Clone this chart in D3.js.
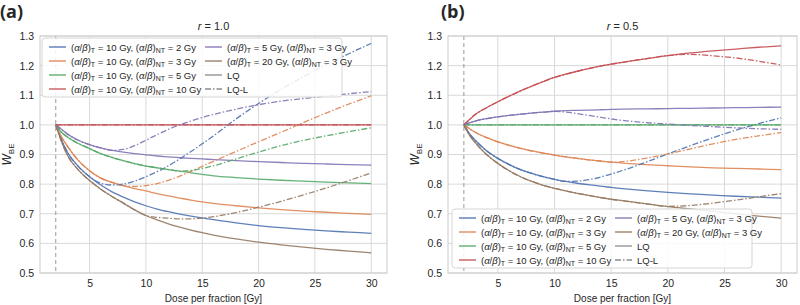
<!DOCTYPE html>
<html>
<head>
<meta charset="utf-8">
<script src="https://cdn.jsdelivr.net/npm/d3@7"></script>
<style>
  body { margin: 0; background: #fff; }
  svg text { font-family: "Liberation Sans", Arial, sans-serif; fill: #262626; }
</style>
</head>
<body>
<svg id="chart" width="800" height="305"></svg>
<script>
// dose per fraction [Gy]
const dose = [2, 2.5, 3, 4, 5, 6, 7, 8, 9, 10, 11, 12, 13, 14, 15, 16, 18, 20, 22, 24, 26, 28, 30];

// (a/b)_T, (a/b)_NT for each series
const abPairs = [[10, 2], [10, 3], [10, 5], [10, 10], [5, 3], [20, 3]];
const colors = ["#4c72b0", "#dd8452", "#55a868", "#c44e52", "#8172b3", "#937860"];

const xTicks = [5, 10, 15, 20, 25, 30];
const yTicks = [0.5, 0.6, 0.7, 0.8, 0.9, 1.0, 1.1, 1.2, 1.3];
const yTickLabels = ["0.5", "0.6", "0.7", "0.8", "0.9", "1.0", "1.1", "1.2", "1.3"];

// panel (a), r = 1.0
const lqA = [
  [1.0, 0.95, 0.91, 0.86, 0.825, 0.797, 0.774, 0.756, 0.74, 0.727, 0.716, 0.707, 0.699, 0.692, 0.686, 0.68, 0.669, 0.66, 0.653, 0.647, 0.642, 0.638, 0.634],
  [1.0, 0.96, 0.93, 0.88, 0.845, 0.82, 0.806, 0.795, 0.785, 0.777, 0.768, 0.76, 0.753, 0.746, 0.74, 0.735, 0.727, 0.72, 0.714, 0.709, 0.705, 0.701, 0.698],
  [1.0, 0.975, 0.96, 0.937, 0.92, 0.903, 0.89, 0.879, 0.869, 0.861, 0.855, 0.849, 0.844, 0.838, 0.833, 0.828, 0.822, 0.817, 0.813, 0.81, 0.807, 0.804, 0.802],
  [1.0, 1.0, 1.0, 1.0, 1.0, 1.0, 1.0, 1.0, 1.0, 1.0, 1.0, 1.0, 1.0, 1.0, 1.0, 1.0, 1.0, 1.0, 1.0, 1.0, 1.0, 1.0, 1.0],
  [1.0, 0.985, 0.97, 0.948, 0.933, 0.922, 0.914, 0.908, 0.903, 0.899, 0.895, 0.892, 0.889, 0.887, 0.885, 0.883, 0.879, 0.876, 0.873, 0.87, 0.868, 0.866, 0.864],
  [1.0, 0.945, 0.9, 0.848, 0.812, 0.783, 0.758, 0.736, 0.713, 0.694, 0.679, 0.666, 0.655, 0.645, 0.636, 0.628, 0.615, 0.604, 0.595, 0.587, 0.58, 0.574, 0.568]
];
const lqlA = [
  [1.0, 0.95, 0.91, 0.86, 0.825, 0.803, 0.797, 0.8, 0.81, 0.825, 0.842, 0.862, 0.885, 0.91, 0.936, 0.963, 1.02, 1.072, 1.12, 1.163, 1.203, 1.24, 1.275],
  [1.0, 0.96, 0.93, 0.88, 0.845, 0.82, 0.806, 0.795, 0.792, 0.795, 0.802, 0.813, 0.827, 0.843, 0.86, 0.877, 0.91, 0.943, 0.975, 1.008, 1.04, 1.07, 1.098],
  [1.0, 0.975, 0.96, 0.937, 0.92, 0.903, 0.89, 0.879, 0.869, 0.861, 0.855, 0.849, 0.844, 0.846, 0.853, 0.862, 0.885, 0.908, 0.93, 0.948, 0.963, 0.977, 0.99],
  [1.0, 1.0, 1.0, 1.0, 1.0, 1.0, 1.0, 1.0, 1.0, 1.0, 1.0, 1.0, 1.0, 1.0, 1.0, 1.0, 1.0, 1.0, 1.0, 1.0, 1.0, 1.0, 1.0],
  [1.0, 0.985, 0.97, 0.948, 0.933, 0.922, 0.914, 0.917, 0.93, 0.948, 0.967, 0.985, 1.0, 1.013, 1.025, 1.035, 1.053, 1.068, 1.08, 1.089, 1.097, 1.105, 1.112],
  [1.0, 0.945, 0.9, 0.848, 0.812, 0.783, 0.758, 0.736, 0.713, 0.694, 0.688, 0.685, 0.683, 0.683, 0.685, 0.69, 0.704, 0.722, 0.742, 0.764, 0.787, 0.812, 0.838]
];

// panel (b), r = 0.5
const lqB = [
  [1.0, 0.97, 0.948, 0.913, 0.887, 0.866, 0.849, 0.836, 0.825, 0.816, 0.809, 0.803, 0.798, 0.793, 0.789, 0.785, 0.778, 0.772, 0.767, 0.763, 0.759, 0.756, 0.753],
  [1.0, 0.987, 0.975, 0.957, 0.943, 0.931, 0.921, 0.912, 0.905, 0.898, 0.892, 0.887, 0.882, 0.878, 0.874, 0.871, 0.866, 0.862, 0.858, 0.855, 0.853, 0.851, 0.849],
  [1.0, 1.0, 1.0, 1.0, 1.0, 1.0, 1.0, 1.0, 1.0, 1.0, 1.0, 1.0, 1.0, 1.0, 1.0, 1.0, 1.0, 1.0, 1.0, 1.0, 1.0, 1.0, 1.0],
  [1.0, 1.018, 1.035, 1.058, 1.078, 1.097, 1.115, 1.131, 1.146, 1.16, 1.171, 1.181, 1.19, 1.198, 1.205, 1.211, 1.223, 1.234, 1.243, 1.25, 1.256, 1.262, 1.267],
  [1.0, 1.007, 1.013, 1.021, 1.027, 1.032, 1.036, 1.04, 1.043, 1.046, 1.048, 1.049, 1.05, 1.051, 1.052, 1.053, 1.054, 1.055, 1.056, 1.057, 1.058, 1.059, 1.06],
  [1.0, 0.965, 0.94, 0.9, 0.87, 0.845, 0.825, 0.809, 0.796, 0.786, 0.777, 0.769, 0.762, 0.755, 0.749, 0.744, 0.734, 0.724, 0.716, 0.708, 0.7, 0.692, 0.685]
];
const lqlB = [
  [1.0, 0.97, 0.948, 0.913, 0.887, 0.866, 0.849, 0.836, 0.825, 0.816, 0.809, 0.81, 0.815, 0.823, 0.834, 0.846, 0.873, 0.902, 0.93, 0.957, 0.982, 1.004, 1.024],
  [1.0, 0.987, 0.975, 0.957, 0.943, 0.931, 0.921, 0.912, 0.905, 0.898, 0.892, 0.887, 0.882, 0.878, 0.874, 0.876, 0.887, 0.902, 0.919, 0.936, 0.951, 0.963, 0.974],
  [1.0, 1.0, 1.0, 1.0, 1.0, 1.0, 1.0, 1.0, 1.0, 1.0, 1.0, 1.0, 1.0, 1.0, 1.0, 1.0, 1.0, 1.0, 1.0, 1.0, 1.0, 1.0, 1.0],
  [1.0, 1.018, 1.035, 1.058, 1.078, 1.097, 1.115, 1.131, 1.146, 1.16, 1.171, 1.181, 1.19, 1.198, 1.205, 1.211, 1.223, 1.234, 1.238, 1.233, 1.226, 1.215, 1.202],
  [1.0, 1.007, 1.013, 1.021, 1.027, 1.032, 1.036, 1.04, 1.043, 1.046, 1.043, 1.038, 1.032, 1.026, 1.02, 1.015, 1.008, 1.003, 0.998, 0.994, 0.99, 0.987, 0.985],
  [1.0, 0.965, 0.94, 0.9, 0.87, 0.845, 0.825, 0.809, 0.796, 0.786, 0.777, 0.769, 0.762, 0.755, 0.749, 0.744, 0.734, 0.725, 0.728, 0.736, 0.746, 0.757, 0.768]
];

const svg = d3.select("#chart");
const plotTop = 36, plotBottom = 273;
const dashDot = "6,2,1.5,2";

function mathLabel(sel, t, nt) {
  const parts = [["(", ""], ["α", "i"], ["/", ""], ["β", "i"], [")", ""], ["T", "s"],
    [` = ${t} Gy, (`, ""], ["α", "i"], ["/", ""], ["β", "i"], [")", ""], ["NT", "s"], [` = ${nt} Gy`, ""]];
  let sub = false;
  parts.forEach(([txt, k]) => {
    const ts = sel.append("tspan").text(txt);
    if (k === "i") ts.style("font-style", "italic");
    if (k === "s") { ts.attr("dy", 2.5).attr("font-size", "7px"); sub = true; }
    else if (sub) { ts.attr("dy", -2.5); sub = false; }
  });
}

function drawPanel(cfg) {
  const x = d3.scaleLinear().domain([0.6, 31.4]).range([cfg.left, cfg.right]);
  const y = d3.scaleLinear().domain([0.5, 1.3]).range([plotBottom, plotTop]);
  const g = svg.append("g");

  // grid
  g.selectAll(".gx").data(xTicks).enter().append("line")
    .attr("x1", d => x(d)).attr("x2", d => x(d)).attr("y1", plotTop).attr("y2", plotBottom)
    .attr("stroke", "#d9d9d9").attr("stroke-width", 1);
  g.selectAll(".gy").data(yTicks).enter().append("line")
    .attr("x1", cfg.left).attr("x2", cfg.right).attr("y1", d => y(d)).attr("y2", d => y(d))
    .attr("stroke", "#d9d9d9").attr("stroke-width", 1);

  // axes (labels only)
  const xa = g.append("g").attr("transform", `translate(0,${plotBottom})`)
    .call(d3.axisBottom(x).tickValues(xTicks).tickSize(0).tickPadding(7).tickFormat(d => String(d)));
  const ya = g.append("g").attr("transform", `translate(${cfg.left},0)`)
    .call(d3.axisLeft(y).tickValues(yTicks).tickSize(0).tickPadding(6).tickFormat((d, i) => yTickLabels[i]));
  [xa, ya].forEach(a => {
    a.select(".domain").remove();
    a.selectAll("text").attr("font-size", "10.5px").style("font-family", "'Liberation Sans', Arial, sans-serif").attr("fill", "#333");
  });

  // threshold line at 2 Gy
  g.append("line").attr("x1", x(2)).attr("x2", x(2)).attr("y1", plotTop).attr("y2", plotBottom)
    .attr("stroke", "#999").attr("stroke-width", 1).attr("stroke-dasharray", "4,3");

  const clipId = "clip" + cfg.name;
  svg.append("clipPath").attr("id", clipId).append("rect")
    .attr("x", cfg.left).attr("y", plotTop).attr("width", cfg.right - cfg.left).attr("height", plotBottom - plotTop);

  const line = d3.line().x((d, i) => x(dose[i])).y(d => y(d)).curve(d3.curveMonotoneX);
  const lines = g.append("g").attr("clip-path", `url(#${clipId})`);
  cfg.lq.forEach((vals, k) => {
    lines.append("path").attr("d", line(vals)).attr("fill", "none")
      .attr("stroke", colors[k]).attr("stroke-width", 1.3).attr("opacity", 0.9);
  });
  cfg.lql.forEach((vals, k) => {
    lines.append("path").attr("d", line(vals)).attr("fill", "none")
      .attr("stroke", colors[k]).attr("stroke-width", 1.3).attr("opacity", 0.9)
      .attr("stroke-dasharray", dashDot);
  });

  // spines
  g.append("rect").attr("x", cfg.left).attr("y", plotTop).attr("width", cfg.right - cfg.left).attr("height", plotBottom - plotTop)
    .attr("fill", "none").attr("stroke", "#cccccc").attr("stroke-width", 1);

  // titles and labels
  g.append("text").attr("x", (cfg.left + cfg.right) / 2).attr("y", 30).attr("text-anchor", "middle")
    .attr("font-size", "11px")
    .call(t => { t.append("tspan").style("font-style", "italic").text("r"); t.append("tspan").text(" = " + cfg.r); });
  g.append("text").attr("x", (cfg.left + cfg.right) / 2).attr("y", 302).attr("text-anchor", "middle")
    .attr("font-size", "10px").text("Dose per fraction [Gy]");
  g.append("text").attr("transform", `translate(${cfg.left - 29},${(plotTop + plotBottom) / 2}) rotate(-90)`)
    .attr("text-anchor", "middle").attr("font-size", "12px")
    .call(t => {
      t.append("tspan").style("font-style", "italic").text("W");
      t.append("tspan").attr("dy", 3).attr("font-size", "8px").text("BE");
    });
  g.append("text").attr("x", cfg.tagX).attr("y", 18).attr("font-size", "18px").attr("font-weight", "bold")
    .style("font-family", "'Open Sans', sans-serif").attr("fill", "#111").text(cfg.tag);

  // legend
  const lg = g.append("g").attr("transform", `translate(${cfg.legX},${cfg.legY})`);
  lg.append("rect").attr("width", 300).attr("height", 59).attr("rx", 3)
    .attr("fill", "#fff").attr("fill-opacity", 0.85).attr("stroke", "#d5d5d5");
  const items = abPairs.map((p, k) => ({ pair: p, color: colors[k], dash: null }))
    .concat([{ text: "LQ", color: "#8c8c8c", dash: null }, { text: "LQ-L", color: "#8c8c8c", dash: dashDot }]);
  items.forEach((it, idx) => {
    const col = idx < 4 ? 0 : 1;
    const row = idx % 4;
    const ox = col === 0 ? 7 : 163, oy = 9 + row * 14;
    lg.append("line").attr("x1", ox).attr("x2", ox + 17).attr("y1", oy).attr("y2", oy)
      .attr("stroke", it.color).attr("stroke-width", 1.3).attr("stroke-dasharray", it.dash);
    const t = lg.append("text").attr("x", ox + 22).attr("y", oy + 3.5).attr("font-size", "9.5px");
    if (it.pair) mathLabel(t, it.pair[0], it.pair[1]); else t.text(it.text);
  });
}

drawPanel({ name: "a", left: 40, right: 387, lq: lqA, lql: lqlA, r: "1.0", tag: "(a)", tagX: 0, legX: 42, legY: 38 });
drawPanel({ name: "b", left: 448, right: 797, lq: lqB, lql: lqlB, r: "0.5", tag: "(b)", tagX: 441, legX: 452, legY: 209 });
</script>
</body>
</html>
